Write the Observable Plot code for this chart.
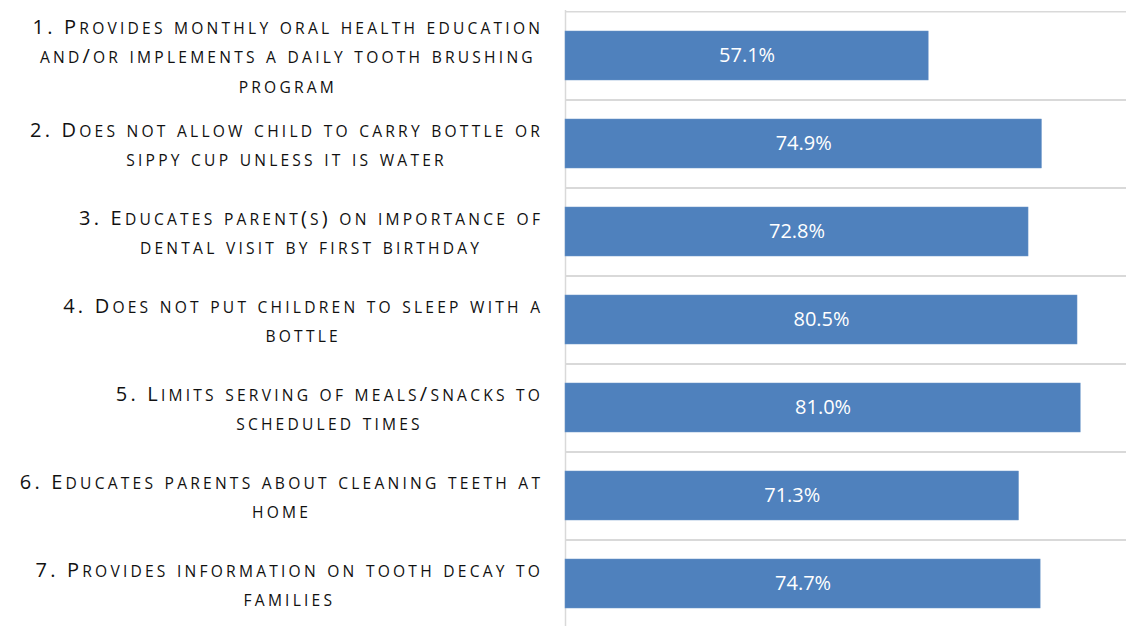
<!DOCTYPE html>
<html>
<head>
<meta charset="utf-8">
<script src="https://cdn.jsdelivr.net/npm/d3@7"></script>
<script src="https://cdn.jsdelivr.net/npm/@observablehq/plot@0.6"></script>
<style>
  html, body { margin: 0; padding: 0; background: #fff; }
  #chart { width: 1126px; height: 626px; overflow: hidden; }
</style>
</head>
<body>
<div id="chart"></div>
<script>
const categories = [
  "1. Provides monthly oral health education\nand/or implements a daily tooth brushing\nprogram",
  "2. Does not allow child to carry bottle or\nsippy cup unless it is water",
  "3. Educates parent(s) on importance of\ndental visit by first birthday",
  "4. Does not put children to sleep with a\nbottle",
  "5. Limits serving of meals/snacks to\nscheduled times",
  "6. Educates parents about cleaning teeth at\nhome",
  "7. Provides information on tooth decay to\nfamilies"
];
const values = [57.1, 74.9, 72.8, 80.5, 81.0, 71.3, 74.7];
const xDomain = [0, 88.2];

const data = categories.map((c, i) => ({label: c, value: values[i]}));

const W = 1126, H = 626;
const yTop = 10, yBottom = 630;
const step = (yBottom - yTop) / categories.length;
const labelRight = 540;
const capSize = 20, smallCapSize = 15.6, spacing = 3.2;

const plot = Plot.plot({
  width: W,
  height: H,
  marginLeft: 565,
  marginRight: 0,
  marginTop: yTop,
  marginBottom: 0,
  style: {fontFamily: "'Open Sans', sans-serif", background: "#fff"},
  x: {domain: xDomain, axis: null},
  y: {domain: categories, range: [yTop, yBottom], paddingInner: 0.44, paddingOuter: 0.22, axis: null},
  marks: [
    Plot.ruleY(categories, {y: d => d, x1: xDomain[0], x2: xDomain[1], dy: -step / 2, stroke: "#d9d9d9", strokeWidth: 1.5}),
    Plot.ruleY(categories, {y: d => d, x1: xDomain[0], x2: xDomain[1], dy: step / 2, stroke: "#d9d9d9", strokeWidth: 1.5}),
    Plot.ruleX([0], {stroke: "#d9d9d9", strokeWidth: 1.5}),
    Plot.barX(data, {x: "value", y: "label", fill: "#4f81bd", stroke: "#6a95c8", strokeWidth: 0.5}),
    Plot.text(data, {x: d => d.value / 2, y: "label", text: d => d.value.toFixed(1) + "%", fill: "white", fontSize: 20}),
    Plot.text(data, {x: 0, y: "label", text: "label", textAnchor: "middle", lineAnchor: "middle", lineHeight: 1.47, fontSize: capSize, fill: "#111", dx: -270, dy: -2})
  ]
});

document.getElementById("chart").append(plot);

// small caps, letter spacing and right-alignment of centered label blocks
const textGroups = plot.querySelectorAll('g[aria-label="text"]');
const labelGroup = textGroups[textGroups.length - 1];
const NS = "http://www.w3.org/2000/svg";
labelGroup.querySelectorAll("text").forEach(t => {
  t.setAttribute("letter-spacing", spacing);
  t.querySelectorAll("tspan").forEach(line => {
    const s = line.textContent;
    line.textContent = "";
    const runs = s.match(/[a-z]+|[^a-z]+/g) || [];
    runs.forEach(run => {
      const sp = document.createElementNS(NS, "tspan");
      if (/[a-z]/.test(run)) {
        sp.setAttribute("font-size", smallCapSize);
        sp.textContent = run.toUpperCase();
      } else {
        sp.textContent = run;
      }
      line.appendChild(sp);
    });
  });
});
const svgRect = plot.getBoundingClientRect();
labelGroup.querySelectorAll("text").forEach(t => {
  const r = t.getBoundingClientRect();
  const shift = labelRight + spacing - (r.right - svgRect.left);
  t.setAttribute("transform", `translate(${shift},0) ` + (t.getAttribute("transform") || ""));
});
</script>
</body>
</html>
